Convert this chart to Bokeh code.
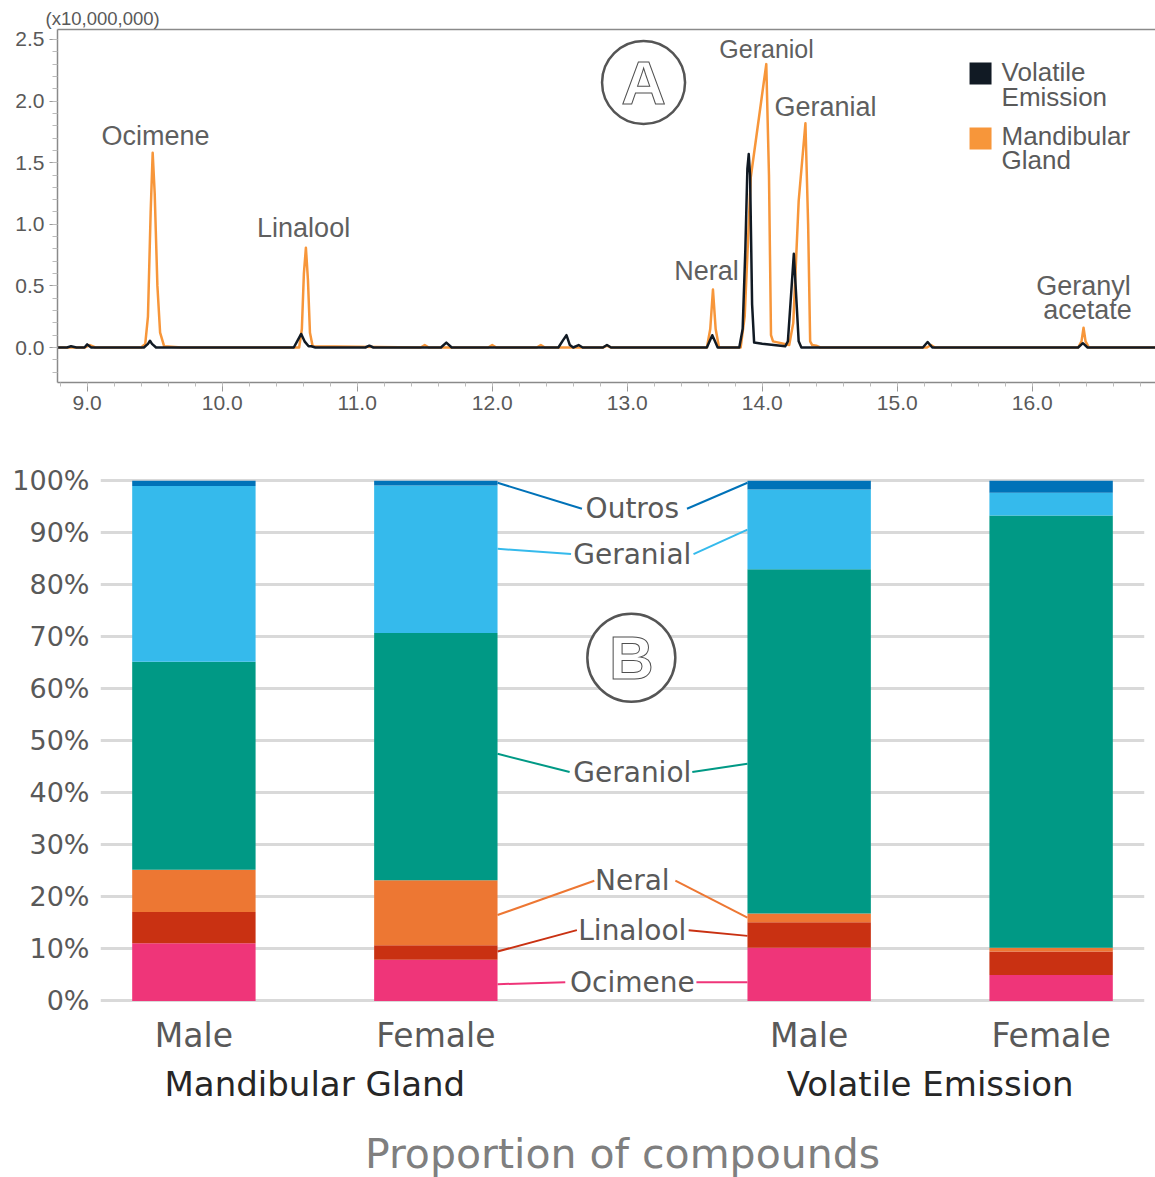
from bokeh.plotting import figure
from bokeh.models import (Range1d, FactorRange, FixedTicker, PrintfTickFormatter,
                          LinearAxis, ColumnDataSource)
from bokeh.embed import file_html
from bokeh.resources import INLINE
from bokeh.core.properties import value

# ---------------- Panel A data (chromatogram) ----------------
mg_time = [8.78, 8.98, 9.02, 9.06, 9.40, 9.43, 9.45, 9.47, 9.485, 9.50, 9.52, 9.54, 9.57, 9.70,
           10.57, 10.59, 10.605, 10.62, 10.635, 10.65, 10.67, 11.47, 11.50, 11.53, 11.97, 12.00,
           12.03, 12.33, 12.36, 12.39, 12.82, 12.85, 12.88, 13.59, 13.615, 13.635, 13.655, 13.68,
           13.84, 13.87, 13.90, 13.915, 13.97, 14.03, 14.05, 14.065, 14.08, 14.20, 14.23, 14.27,
           14.32, 14.34, 14.355, 14.37, 14.40, 14.43, 15.22, 15.25, 15.28, 16.34, 16.365, 16.38,
           16.395, 16.42, 16.92]
mg_signal = [0.0, 0.0, 0.02, 0.0, 0.0, 0.03, 0.25, 1.10, 1.58, 1.25, 0.50, 0.12, 0.01, 0.0,
             0.0, 0.15, 0.60, 0.81, 0.55, 0.12, 0.01, 0.0, 0.02, 0.0, 0.0, 0.02,
             0.0, 0.0, 0.02, 0.0, 0.0, 0.015, 0.0, 0.0, 0.15, 0.47, 0.15, 0.0,
             0.0, 0.25, 1.00, 1.38, 1.82, 2.30, 1.40, 0.10, 0.05, 0.02, 0.20, 1.19,
             1.82, 1.00, 0.05, 0.02, 0.015, 0.0, 0.0, 0.02, 0.0, 0.0, 0.05, 0.16,
             0.05, 0.0, 0.0]

ve_time = [8.78, 8.85, 8.88, 8.92, 8.98, 9.00, 9.03, 9.42, 9.45, 9.465, 9.48, 9.51, 10.53, 10.56,
           10.585, 10.61, 10.64, 10.66, 10.69, 11.06, 11.09, 11.12, 11.62, 11.66, 11.70, 12.49,
           12.525, 12.55, 12.575, 12.60, 12.64, 12.67, 12.82, 12.85, 12.88, 13.59, 13.61, 13.63,
           13.65, 13.67, 13.83, 13.855, 13.875, 13.89, 13.90, 13.91, 13.925, 13.94, 14.00, 14.17,
           14.19, 14.215, 14.234, 14.25, 14.27, 14.29, 15.19, 15.225, 15.26, 16.34, 16.375, 16.41,
           16.92]
ve_signal = [0.0, 0.0, 0.01, 0.0, 0.0, 0.025, 0.0, 0.0, 0.03, 0.055, 0.03, 0.0, 0.0, 0.06,
             0.11, 0.05, 0.01, 0.01, 0.0, 0.0, 0.015, 0.0, 0.0, 0.04, 0.0, 0.0,
             0.06, 0.10, 0.02, 0.0, 0.02, 0.0, 0.0, 0.02, 0.0, 0.0, 0.05, 0.10,
             0.05, 0.0, 0.0, 0.15, 0.80, 1.45, 1.57, 1.40, 0.35, 0.04, 0.03, 0.01,
             0.05, 0.45, 0.76, 0.45, 0.05, 0.0, 0.0, 0.045, 0.0, 0.0, 0.035, 0.0,
             0.0]

time_ticks = [9.0, 10.0, 11.0, 12.0, 13.0, 14.0, 15.0, 16.0]
time_minor = [round(8.8 + 0.2 * i, 1) for i in range(41)]
signal_ticks = [0.0, 0.5, 1.0, 1.5, 2.0, 2.5]
signal_minor = [round(-0.2 + 0.1 * i, 1) for i in range(28)]

peak_labels = ["Ocimene", "Linalool", "Neral", "Geranial", "Geranyl", "acetate"]
series_names = ["Volatile", "Emission", "Mandibular", "Gland"]

# ---------------- Panel B data (proportions, %) ----------------
groups = ["Mandibular Gland", "Volatile Emission"]
sexes = ["Male", "Female"]
compounds = ["Ocimene", "Linalool", "Neral", "Geraniol", "Geranial", "Outros"]
ocimene = [11.1, 7.9, 10.2, 5.0]
linalool = [6.0, 2.8, 4.9, 4.5]
neral = [8.1, 12.5, 1.7, 0.7]
geraniol = [40.0, 47.5, 66.2, 83.1]
geranial = [33.8, 28.4, 15.3, 4.4]
outros = [1.0, 0.9, 1.7, 2.3]
pct_ticks = [0, 10, 20, 30, 40, 50, 60, 70, 80, 90, 100]

# ---------------- styles ----------------
ORANGE = "#F7963A"
BLACK = "#111A24"
GRAY_TXT = "#595959"
comp_colors = ["#EF3579", "#C93112", "#ED7733", "#009985", "#35BAEC", "#0072B8"]
FONT_A = "Liberation Sans"
FONT_B = "DejaVu Sans"

# ================= Panel A =================
p1 = figure(frame_width=1098, frame_height=353, min_border_left=57, min_border_right=0,
            min_border_top=29, min_border_bottom=40,
            x_range=Range1d(8.78, 16.913), y_range=Range1d(-0.284, 2.581),
            output_backend="svg", toolbar_location=None)
p1.outline_line_color = None
p1.xgrid.visible = False
p1.ygrid.visible = False

p1.title.text = "(x10,000,000)"
p1.title.align = "left"
p1.title.offset = -12
p1.title.standoff = 1
p1.title.text_font = FONT_A
p1.title.text_font_size = "18.5px"
p1.title.text_font_style = "normal"
p1.title.text_color = GRAY_TXT

p1.line(mg_time, mg_signal, line_color=ORANGE, line_width=2.5, line_join="round")
p1.line(ve_time, ve_signal, line_color=BLACK, line_width=2.5, line_join="round")

for ax in (p1.xaxis[0], p1.yaxis[0]):
    ax.axis_line_color = "#8a8a8a"
    ax.axis_line_width = 1.5
    ax.major_tick_line_color = "#9a9a9a"
    ax.minor_tick_line_color = "#bbbbbb"
    ax.major_label_text_font = FONT_A
    ax.major_label_text_font_size = "21px"
    ax.major_label_text_color = GRAY_TXT
    ax.formatter = PrintfTickFormatter(format="%.1f")
    ax.major_tick_in = 0
    ax.minor_tick_in = 0

p1.xaxis.ticker = FixedTicker(ticks=time_ticks, minor_ticks=time_minor)
p1.xaxis.major_tick_out = 9
p1.xaxis.minor_tick_out = 4
p1.xaxis.major_label_standoff = 4
p1.yaxis.ticker = FixedTicker(ticks=signal_ticks, minor_ticks=signal_minor)
p1.yaxis.major_tick_out = 8
p1.yaxis.minor_tick_out = 5
p1.yaxis.major_label_standoff = 5

top_axis = LinearAxis(ticker=FixedTicker(ticks=[]), axis_line_color="#8a8a8a", axis_line_width=1.5,
                      major_tick_line_color=None, minor_tick_line_color=None)
p1.add_layout(top_axis, "above")

# peak labels
lab_x = [9.506, 10.603, 13.587, 14.469, 16.380, 16.410]
lab_y = [1.713, 0.966, 0.617, 1.948, 0.503, 0.308]
p1.text(x=lab_x, y=lab_y, text=peak_labels, text_font=value(FONT_A), text_font_size="27px",
        text_color="#5f5f5f", text_align="center", text_baseline="middle")
p1.text(x=[14.032], y=[2.419], text=["Geraniol"], text_font=value(FONT_A), text_font_size="25px",
        text_color="#5f5f5f", text_align="center", text_baseline="middle")

# legend
p1.scatter(x=[15.617, 15.617], y=[2.224, 1.696], marker="square", size=22,
           fill_color=[BLACK, ORANGE], line_color=None)
p1.text(x=[15.773] * 4, y=[2.240, 2.037, 1.713, 1.518], text=series_names,
        text_font=value(FONT_A), text_font_size="26px", text_color="#5a5a5a",
        text_align="left", text_baseline="middle")

# circled A
p1.scatter(x=[13.121], y=[2.151], marker="circle", size=83, fill_color=None,
           line_color="#555555", line_width=2.5)
p1.text(x=[13.121], y=[2.151], text=["A"], text_font=value(FONT_A), text_font_size="62px",
        text_font_style="bold", text_color="white", text_outline_color="#505050",
        text_align="center", text_baseline="middle")

# ================= Panel B =================
factors = [(g, s) for g in groups for s in sexes]
src = ColumnDataSource(data=dict(x=factors, Ocimene=ocimene, Linalool=linalool, Neral=neral,
                                 Geraniol=geraniol, Geranial=geranial, Outros=outros))

GROUP_PAD = 0.543
p2 = figure(x_range=FactorRange(*factors, group_padding=GROUP_PAD, range_padding=-0.114,
                                range_padding_units="absolute"),
            y_range=Range1d(-0.5, 101.0),
            frame_width=1044, frame_height=528, min_border_left=100, min_border_right=11,
            min_border_top=53, min_border_bottom=170,
            output_backend="svg", toolbar_location=None)
p2.outline_line_color = None
p2.xgrid.visible = False
p2.ygrid.grid_line_color = "#d9d9d9"
p2.ygrid.grid_line_width = 3

BAR_W = 0.51
p2.vbar_stack(compounds, x="x", width=BAR_W, fill_color=comp_colors, line_color=None, source=src)

p2.yaxis.ticker = FixedTicker(ticks=pct_ticks)
p2.yaxis.formatter = PrintfTickFormatter(format="%d%%")
p2.yaxis.axis_line_color = None
p2.yaxis.major_tick_line_color = None
p2.yaxis.minor_tick_line_color = None
p2.yaxis.major_label_text_font = FONT_B
p2.yaxis.major_label_text_font_size = "27px"
p2.yaxis.major_label_text_color = GRAY_TXT
p2.yaxis.major_label_standoff = 5

xa = p2.xaxis[0]
xa.axis_line_color = None
xa.major_tick_line_color = None
xa.minor_tick_line_color = None
xa.separator_line_color = None
xa.major_label_text_font = FONT_B
xa.major_label_text_font_size = "33px"
xa.major_label_text_color = GRAY_TXT
xa.major_label_standoff = 6
xa.group_text_font = FONT_B
xa.group_text_font_size = "34px"
xa.group_text_color = "#262626"
xa.group_text_font_style = "normal"
xa.axis_label = "Proportion of compounds"
xa.axis_label_text_font = FONT_B
xa.axis_label_text_font_size = "41px"
xa.axis_label_text_font_style = "normal"
xa.axis_label_text_color = "#7f7f7f"
xa.axis_label_standoff = 23

# leader lines between bar 2 and bar 3 (synthetic coordinates)
bar2_right = 1.5 + BAR_W / 2
bar3_left = 2.5 + GROUP_PAD - BAR_W / 2
lab_left_end = [2.035, 2.083, 2.155, 2.053, 2.059, 2.104]
lab_right_start = [2.577, 2.545, 2.490, 2.560, 2.565, 2.538]
lab_y_pct = [3.6, 13.6, 23.1, 44.0, 85.9, 94.6]
left_end_y = [3.2, 9.5, 16.5, 47.5, 86.9, 99.6]
right_end_y = [3.6, 12.5, 16.0, 45.6, 90.6, 99.6]
p2.segment(x0=[bar2_right] * 6, y0=left_end_y, x1=lab_left_end, y1=lab_y_pct,
           line_color=comp_colors, line_width=2)
p2.segment(x0=lab_right_start, y0=lab_y_pct, x1=[bar3_left] * 6, y1=right_end_y,
           line_color=comp_colors, line_width=2)
p2.text(x=[2.312] * 6, y=lab_y_pct, text=compounds, text_font=value(FONT_B),
        text_font_size="28px", text_color=GRAY_TXT, text_align="center", text_baseline="middle")

# circled B
p2.scatter(x=[2.308], y=[65.96], marker="circle", size=88, fill_color="white",
           line_color="#555555", line_width=2.5)
p2.text(x=[2.308], y=[65.96], text=["B"], text_font=value(FONT_A), text_font_size="62px",
        text_font_style="bold", text_color="white", text_outline_color="#505050",
        text_align="center", text_baseline="middle")

open("out.html", "w").write(file_html([p1, p2], INLINE))
